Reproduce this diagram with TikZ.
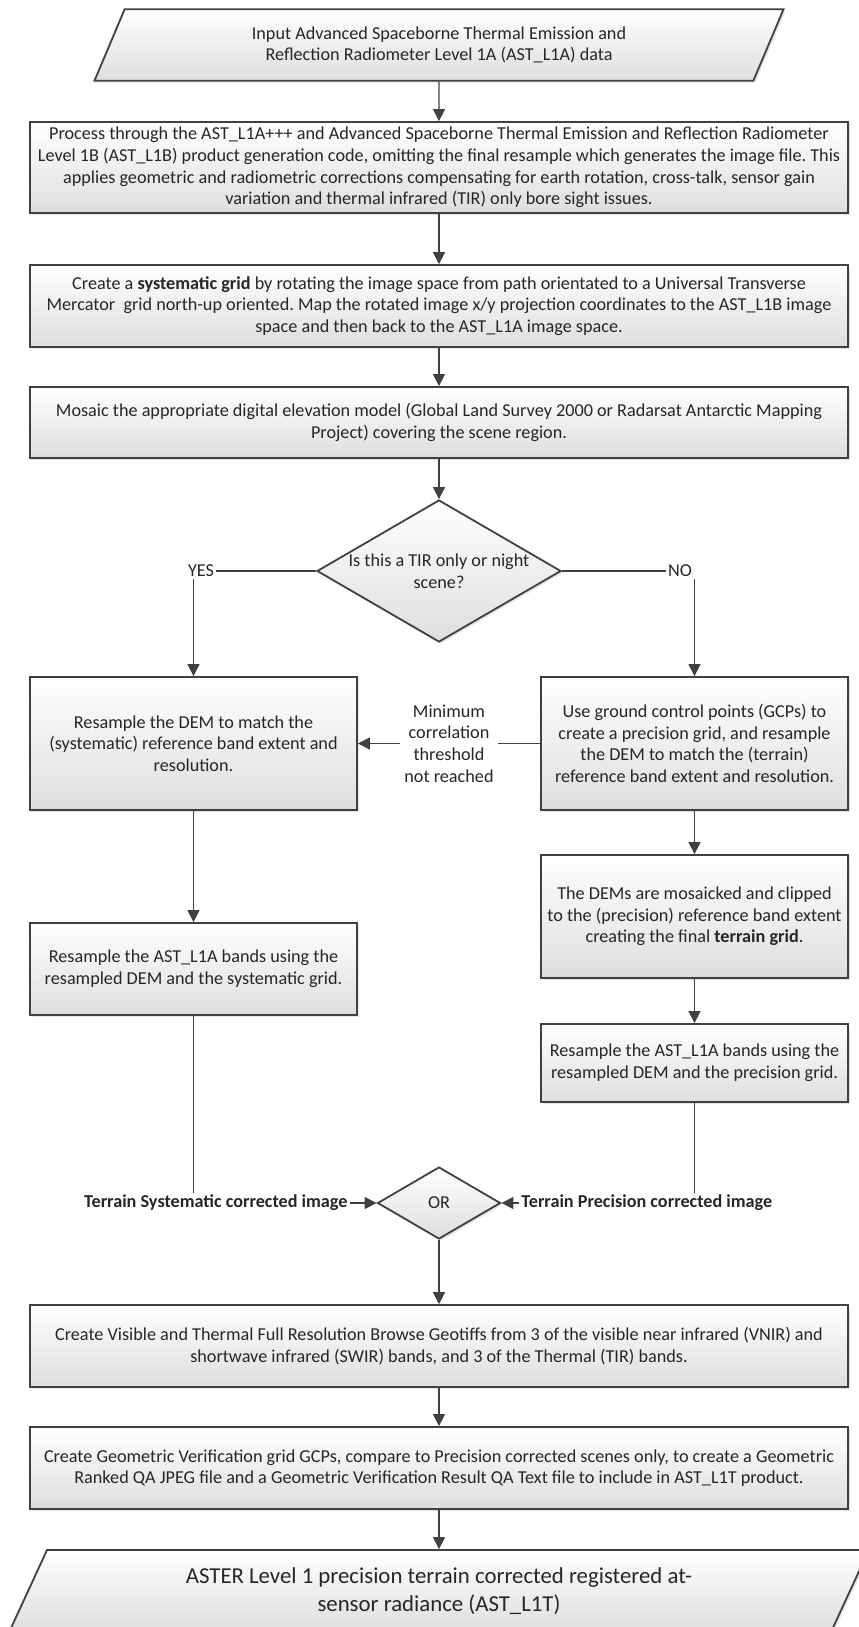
\documentclass[tikz,border=0pt]{standalone}
\usepackage{fontspec}
\setmainfont{Carlito}
\usepackage{tikz}
\usetikzlibrary{shapes.geometric,arrows.meta,shadows}
\definecolor{edge}{HTML}{404040}
\definecolor{ink}{HTML}{262626}
\frenchspacing

\begin{document}
\begin{tikzpicture}[x=0.5pt, y=-0.5pt,
		font=\fontsize{9.1}{10.85}\selectfont, text=ink,
		box/.style={draw=edge, line width=0.9pt, top color=white, bottom color=black!13,
			align=center, inner sep=0pt,
			drop shadow={shadow xshift=1pt, shadow yshift=-1pt, opacity=0.2}},
		wide/.style={box, minimum width=409pt},
		left col/.style={box, minimum width=163.5pt},
		right col/.style={box, minimum width=153.5pt},
		para/.style={box, trapezium, trapezium left angle=#1, trapezium right angle=180-#1,
			trapezium stretches=true},
		choice/.style={box, diamond},
		tag/.style={inner sep=1pt, align=center},
		link/.style={draw=edge, line width=0.65pt},
		arr/.style={link, -{Triangle[length=6pt, width=6pt]}}]

	\useasboundingbox (0,0) rectangle (858,1627);

	\node[para=64, minimum width=345pt, minimum height=35.75pt] (in) at (439,45)
		{Input Advanced Spaceborne Thermal Emission and\\Reflection Radiometer Level 1A (AST\_L1A) data};
	\node[wide, minimum height=45.5pt] (proc) at (439,167.5)
		{Process through the AST\_L1A+++ and Advanced Spaceborne Thermal Emission and Reflection Radiometer\\
		Level 1B (AST\_L1B) product generation code, omitting the final resample which generates the image file. This\\
		applies geometric and radiometric corrections compensating for earth rotation, cross-talk, sensor gain\\
		variation and thermal infrared (TIR) only bore sight issues.};
	\node[wide, minimum height=41pt] (sys) at (439,306)
		{Create a \textbf{systematic grid} by rotating the image space from path orientated to a Universal Transverse\\
		Mercator\ \ grid north-up oriented. Map the rotated image x/y projection coordinates to the AST\_L1B image\\
		space and then back to the AST\_L1A image space.};
	\node[wide, minimum height=35.5pt] (mos) at (439,422.5)
		{Mosaic the appropriate digital elevation model (Global Land Survey 2000 or Radarsat Antarctic Mapping\\
		Project) covering the scene region.};
	\node[choice, minimum width=122pt, minimum height=71pt,
		label={[tag]center:Is this a TIR only or night\\scene?}] (dec) at (439,571) {};
	\node[tag] (yes) at (201,571) {YES};
	\node[tag] (no) at (680,571) {NO};

	\node[left col, minimum height=66.5pt] (dem) at (193.5,743.5)
		{Resample the DEM to match the\\(systematic) reference band extent and\\resolution.};
	\node[right col, minimum height=66.5pt] (gcp) at (694.5,743.5)
		{Use ground control points (GCPs) to\\create a precision grid, and resample\\the DEM to match the (terrain)\\reference band extent and resolution.};
	\node[right col, minimum height=61.5pt] (dems) at (694.5,916.5)
		{The DEMs are mosaicked and clipped\\to the (precision) reference band extent\\creating the final \textbf{terrain grid}.};
	\node[left col, minimum height=46pt] (lres) at (193.5,969)
		{Resample the AST\_L1A bands using the\\resampled DEM and the systematic grid.};
	\node[right col, minimum height=39pt] (rres) at (694.5,1063)
		{Resample the AST\_L1A bands using the\\resampled DEM and the precision grid.};

	\node[choice, minimum width=61.5pt, minimum height=36pt, label={[tag]center:OR}] (orr) at (439,1203) {};
	\node[tag, anchor=east, font=\fontsize{9.1}{10.85}\selectfont\bfseries] (sysimg) at (350,1203)
		{Terrain Systematic corrected image};
	\node[tag, anchor=west, font=\fontsize{9.1}{10.85}\selectfont\bfseries] (preimg) at (519,1203)
		{Terrain Precision corrected image};

	\node[wide, minimum height=41pt] (vis) at (439,1346)
		{Create Visible and Thermal Full Resolution Browse Geotiffs from 3 of the visible near infrared (VNIR) and\\
		shortwave infrared (SWIR) bands, and 3 of the Thermal (TIR) bands.};
	\node[wide, minimum height=41pt] (geo) at (439,1468)
		{Create Geometric Verification grid GCPs, compare to Precision corrected scenes only, to create a Geometric\\
		Ranked QA JPEG file and a Geometric Verification Result QA Text file to include in AST\_L1T product.};
	\node[para=62.5, minimum width=430pt, minimum height=41pt,
		font=\fontsize{11.4}{14}\selectfont] (out) at (439,1591)
		{ASTER Level 1 precision terrain corrected registered at-\\sensor radiance (AST\_L1T)};

	\draw[arr] (in) -- (proc);
	\draw[arr] (proc) -- (sys);
	\draw[arr] (sys) -- (mos);
	\draw[arr] (mos) -- (dec);
	\draw[link] (dec) -- (yes);
	\draw[link] (dec) -- (no);
	\draw[arr] (yes.south -| dem.north) -- (dem.north);
	\draw[arr] (no.south -| gcp.north) -- (gcp.north);
	\draw[arr] (gcp) -- node[fill=white, inner sep=2pt, align=center]
		{Minimum\\correlation\\threshold\\not reached} (dem);
	\draw[arr] (gcp) -- (dems);
	\draw[arr] (dems) -- (rres);
	\draw[arr] (dem) -- (lres);
	\draw[link] (lres.south) -- (lres.south |- sysimg.north);
	\draw[link] (rres.south) -- (rres.south |- preimg.north);
	\draw[arr] (sysimg) -- (orr);
	\draw[arr] (preimg) -- (orr);
	\draw[arr] (orr) -- (vis);
	\draw[arr] (vis) -- (geo);
	\draw[arr] (geo.south) -- (geo.south |- out.north);
\end{tikzpicture}
\end{document}
